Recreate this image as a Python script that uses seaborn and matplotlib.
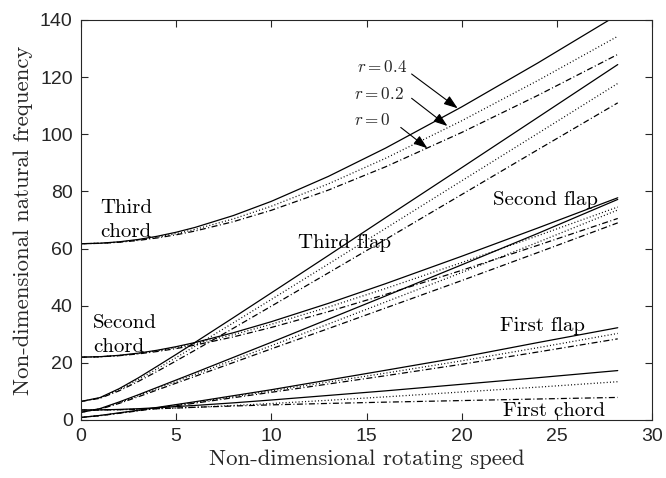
import matplotlib
matplotlib.use("Agg")
import matplotlib.pyplot as plt
import pandas as pd
import seaborn as sns

# Non-dimensional rotating speed at which the frequencies are sampled
speed = [0, 1, 2, 3, 4, 5, 6, 8, 10, 13, 16, 20, 24, 28.2]

# Hub radius ratios: solid, dotted, dash-dot
radius_ratios = ["0.4", "0.2", "0"]

# First chordwise mode
first_chord_r04 = [3.5, 3.55, 3.7, 3.95, 4.3, 4.7, 5.1, 6.0, 7.0, 8.6, 10.2, 12.5, 14.8, 17.3]
first_chord_r02 = [3.5, 3.53, 3.62, 3.76, 3.95, 4.18, 4.45, 5.07, 5.77, 6.9, 8.1, 9.8, 11.5, 13.4]
first_chord_r00 = [3.5, 3.52, 3.6, 3.75, 3.95, 4.2, 4.45, 4.9, 5.3, 5.8, 6.25, 6.8, 7.35, 7.9]

# First flapwise mode
first_flap_r04 = [0.9, 1.6, 2.5, 3.4, 4.4, 5.4, 6.4, 8.5, 10.6, 14.0, 17.4, 22.0, 27.1, 32.3]
first_flap_r02 = [0.9, 1.55, 2.4, 3.3, 4.25, 5.2, 6.15, 8.15, 10.2, 13.3, 16.4, 20.7, 25.3, 30.3]
first_flap_r00 = [0.9, 1.5, 2.35, 3.2, 4.1, 5.0, 5.9, 7.8, 9.7, 12.6, 15.5, 19.5, 23.8, 28.4]

# Second flapwise mode
second_flap_r04 = [2.7, 4.0, 6.3, 8.8, 11.4, 14.0, 16.6, 21.9, 27.2, 35.3, 43.4, 54.3, 65.3, 77.2]
second_flap_r02 = [2.7, 3.9, 6.0, 8.5, 11.0, 13.5, 16.0, 21.0, 26.0, 33.6, 41.3, 51.6, 62.2, 73.5]
second_flap_r00 = [2.7, 3.8, 5.8, 8.1, 10.5, 12.9, 15.3, 20.1, 24.9, 32.0, 39.2, 48.8, 58.6, 69.0]

# Second chordwise mode
second_chord_r04 = [22.0, 22.16, 22.63, 23.39, 24.41, 25.67, 27.13, 30.53, 34.41, 40.83, 47.71, 57.31, 67.2, 77.78]
second_chord_r02 = [22.0, 22.14, 22.57, 23.27, 24.21, 25.37, 26.71, 29.87, 33.5, 39.52, 46.01, 55.1, 64.49, 74.54]
second_chord_r00 = [22.0, 22.13, 22.51, 23.13, 23.97, 25.0, 26.22, 29.08, 32.39, 37.93, 43.93, 52.38, 61.14, 70.54]

# Third flapwise mode
third_flap_r04 = [6.5, 7.85, 10.95, 14.7, 18.8, 22.96, 27.2, 35.8, 44.5, 57.6, 70.8, 88.3, 105.9, 124.4]
third_flap_r02 = [6.5, 7.72, 10.58, 14.1, 17.9, 21.85, 25.86, 34.0, 42.2, 54.6, 67.05, 83.7, 100.3, 117.8]
third_flap_r00 = [6.5, 7.6, 10.2, 13.46, 17.0, 20.7, 24.46, 32.1, 39.84, 51.5, 63.2, 78.9, 94.6, 111.0]

# Third chordwise mode
third_chord_r04 = [61.7, 61.87, 62.36, 63.18, 64.3, 65.72, 67.42, 71.55, 76.53, 85.27, 95.16, 109.58, 124.96, 141.8]
third_chord_r02 = [61.7, 61.85, 62.28, 62.99, 63.98, 65.23, 66.72, 70.37, 74.81, 82.66, 91.59, 104.72, 118.81, 134.3]
third_chord_r00 = [61.7, 61.83, 62.21, 62.84, 63.72, 64.82, 66.15, 69.41, 73.4, 80.48, 88.61, 100.63, 113.61, 127.95]

modes = {
    "first chord": [first_chord_r04, first_chord_r02, first_chord_r00],
    "first flap": [first_flap_r04, first_flap_r02, first_flap_r00],
    "second flap": [second_flap_r04, second_flap_r02, second_flap_r00],
    "second chord": [second_chord_r04, second_chord_r02, second_chord_r00],
    "third flap": [third_flap_r04, third_flap_r02, third_flap_r00],
    "third chord": [third_chord_r04, third_chord_r02, third_chord_r00],
}

rows = []
for mode, series in modes.items():
    for r, values in zip(radius_ratios, series):
        for s, f in zip(speed, values):
            rows.append({"speed": s, "freq": f, "r": r, "curve": f"{mode} r={r}"})
df = pd.DataFrame(rows)

sns.set_style("ticks")
plt.rcParams["mathtext.fontset"] = "cm"
plt.rcParams["font.family"] = ["Liberation Sans", "DejaVu Sans"]

EDGE = "#262626"
SERIF = ["cmr10", "DejaVu Serif"]

fig = plt.figure(figsize=(6.66, 4.78), dpi=100)
ax = fig.add_axes([81 / 666, 1 - 420 / 478, (652 - 81) / 666, (420 - 20) / 478])

sns.lineplot(
    data=df, x="speed", y="freq", units="curve", style="r", estimator=None,
    sort=False, color="black", linewidth=0.9, legend=False, ax=ax,
    style_order=radius_ratios,
    dashes={"0.4": "", "0.2": (0.8, 1.8), "0": (4.8, 2.0, 0.8, 2.0)},
)

ax.set_xlim(0, 30)
ax.set_ylim(0, 140)
ax.set_xticks(range(0, 31, 5))
ax.set_yticks(range(0, 141, 20))
ax.tick_params(direction="in", length=5, width=0.8, color=EDGE, labelcolor=EDGE,
               labelsize=14, top=True, right=True, pad=6)
for side in ax.spines.values():
    side.set_visible(True)
    side.set_color(EDGE)
    side.set_linewidth(0.8)

ax.set_xlabel("Non-dimensional rotating speed", family=SERIF, fontsize=16.4, color=EDGE, labelpad=3)
ax.set_ylabel("Non-dimensional natural frequency", family=SERIF, fontsize=16.4, color=EDGE, labelpad=5)

# Mode names
mode_text = dict(family=SERIF, fontsize=15, color="black", va="baseline", ha="left")
ax.text(1.0, 72.6, "Third", **mode_text)
ax.text(1.0, 63.9, "chord", **mode_text)
ax.text(0.63, 32.1, "Second", **mode_text)
ax.text(0.63, 23.9, "chord", **mode_text)
ax.text(11.4, 60.2, "Third flap", **mode_text)
ax.text(21.67, 75.25, "Second flap", **mode_text)
ax.text(22.0, 31.3, "First flap", **mode_text)
ax.text(22.16, 1.5, "First chord", **mode_text)

# Hub radius callouts on the third chordwise mode
callouts = [
    ("$r=0.4$", (17.37, 121.1), (19.79, 109.1)),
    ("$r=0.2$", (17.37, 112.6), (19.25, 102.9)),
    ("$r=0$", (16.8, 102.4), (18.2, 95.1)),
]
label_pos = [(14.49, 121.9), (14.35, 112.2), (14.35, 103.3)]
for (txt, start, tip), pos in zip(callouts, label_pos):
    ax.text(pos[0], pos[1], txt, fontsize=12.3, va="baseline", ha="left")
    ax.annotate("", xy=tip, xytext=start,
                arrowprops=dict(arrowstyle="-|>,head_length=0.7,head_width=0.25",
                                color="black", lw=0.8, shrinkA=0, shrinkB=0,
                                mutation_scale=12))

fig.savefig("out.png", dpi=100)
